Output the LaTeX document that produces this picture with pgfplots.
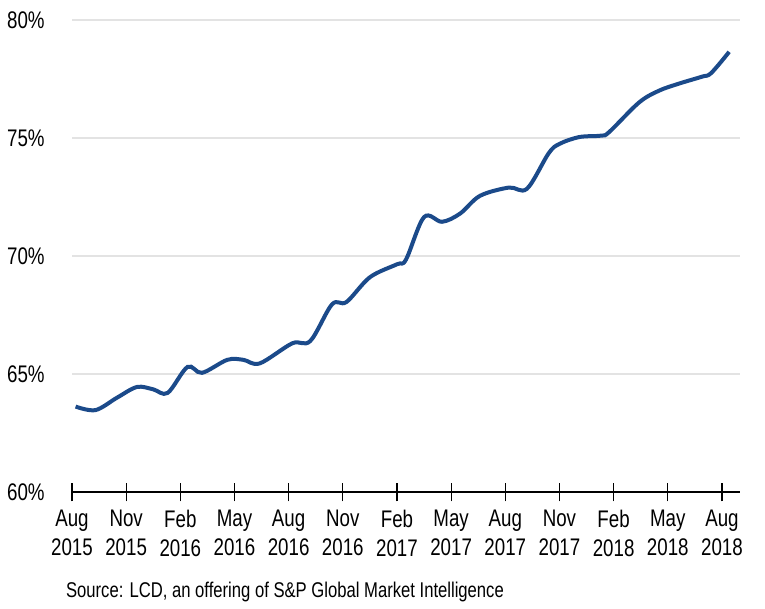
\documentclass[border=0pt]{standalone}
\usepackage{fontspec}
\setmainfont{Liberation Sans}[FakeStretch=0.78]
\usepackage{pgfplots}
\pgfplotsset{compat=1.18}
\definecolor{lineblue}{HTML}{1B4A8A}
\definecolor{gridgray}{HTML}{E3E3E3}
\begin{document}
\begin{tikzpicture}
\path[use as bounding box] (-54pt,-87pt) rectangle (519.75pt,369pt);
\begin{axis}[
  at={(0,0)}, anchor=south west,
  scale only axis, width=501pt, height=354pt,
  xmin=0, xmax=37, ymin=60, ymax=80,
  axis x line=bottom, axis y line=left,
  x axis line style={black, line width=0.9pt, -},
  y axis line style={draw=none},
  xtick={0,3,6,9,12,15,18,21,24,27,30,33,36},
  xticklabels={Aug\\2015,Nov\\2015,Feb\\2016,May\\2016,Aug\\2016,Nov\\2016,Feb\\2017,May\\2017,Aug\\2017,Nov\\2017,Feb\\2018,May\\2018,Aug\\2018},
  xticklabel style={align=center, font=\fontsize{18}{21.5}\selectfont, text=black, yshift=-3pt},
  xtick align=center, major tick length=14pt,
  x tick style={black, line width=0.9pt},
  ytick={60,65,70,75,80},
  yticklabels={60\%,65\%,70\%,75\%,80\%},
  y tick style={draw=none},
  yticklabel style={font=\fontsize{18}{21.5}\selectfont, text=black, xshift=-10pt},
  ymajorgrids, grid style={gridgray, line width=1pt},
  clip=false,
]
\addplot[lineblue, line width=3pt, smooth, tension=0.55] coordinates {
(0.2,63.62) (1.3,63.47) (2.5,64.0) (3.6,64.45) (4.5,64.35) (5.3,64.2)
(6.4,65.3) (7.2,65.05) (8.6,65.6) (9.5,65.6) (10.4,65.45) (12.2,66.3)
(13.2,66.4) (14.4,67.95) (15.2,68.05) (16.5,69.1) (18.0,69.65) (18.5,69.85)
(19.5,71.65) (20.5,71.45) (21.5,71.8) (22.6,72.55) (24.2,72.9) (25.2,72.85)
(26.4,74.35) (27.0,74.75) (28.1,75.04) (29.3,75.1) (29.75,75.25) (31.4,76.5)
(32.5,77.0) (33.6,77.3) (34.9,77.6) (35.4,77.75) (36.4,78.65)
};
\end{axis}
\node[anchor=west, font=\fontsize{16}{19}\selectfont, text=black] at (-8pt,-75pt) {Source: LCD, an offering of S\&P Global Market Intelligence};
\end{tikzpicture}
\end{document}
